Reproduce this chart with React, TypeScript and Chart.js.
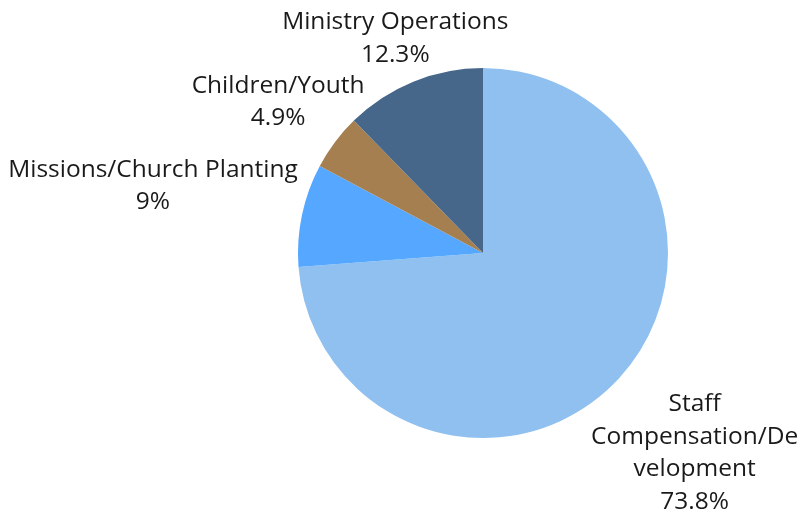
import React, { useEffect, useRef } from "react";
import { Chart, registerables } from "chart.js";

Chart.register(...registerables);

const categories: string[][] = [
  ["Staff", "Compensation/De", "velopment"],
  ["Missions/Church Planting"],
  ["Children/Youth"],
  ["Ministry Operations"],
];
const values: number[] = [73.8, 9, 4.9, 12.3];
const colors: string[] = ["#8FC0EF", "#55A7FF", "#A67F50", "#466789"];

// label block offsets relative to slice mid-point on the rim
const labelNudges: [number, number][] = [
  [76, 74],
  [-149, -29],
  [-57, -40],
  [-18, -43],
];

const labelPlugin = {
  id: "outsideLabels",
  afterDatasetsDraw(chart: any) {
    const ctx = chart.ctx;
    const meta = chart.getDatasetMeta(0);
    ctx.save();
    ctx.font = '24.5px "Open Sans"';
    ctx.fillStyle = "#1a1a1a";
    ctx.textAlign = "center";
    ctx.textBaseline = "middle";
    const lh = 32.5;
    meta.data.forEach((arc: any, i: number) => {
      const p = arc.getProps(["x", "y", "startAngle", "endAngle", "outerRadius"], true);
      const mid = (p.startAngle + p.endAngle) / 2;
      const px = p.x + Math.cos(mid) * p.outerRadius;
      const py = p.y + Math.sin(mid) * p.outerRadius;
      const lines = [...categories[i], String(values[i]) + "%"];
      const cx = px + labelNudges[i][0];
      const cy = py + labelNudges[i][1];
      const top = cy - ((lines.length - 1) * lh) / 2;
      lines.forEach((t, k) => ctx.fillText(t, cx, top + k * lh));
    });
    ctx.restore();
  },
};

export default function App() {
  const ref = useRef<HTMLCanvasElement | null>(null);
  useEffect(() => {
    if (!ref.current) return;
    const chart = new Chart(ref.current, {
      type: "pie",
      data: {
        labels: categories.map((c) => c.join("")),
        datasets: [
          {
            data: values,
            backgroundColor: colors,
            borderWidth: 0,
          },
        ],
      },
      options: {
        animation: false,
        responsive: true,
        maintainAspectRatio: false,
        layout: { padding: { left: 298, right: 136, top: 68, bottom: 74 } },
        plugins: { legend: { display: false }, tooltip: { enabled: false } },
      },
      plugins: [labelPlugin],
    });
    return () => chart.destroy();
  }, []);
  return (
    <div style={{ position: "absolute", left: 0, top: 0, width: 804, height: 512, background: "#fff" }}>
      <canvas ref={ref} />
    </div>
  );
}
